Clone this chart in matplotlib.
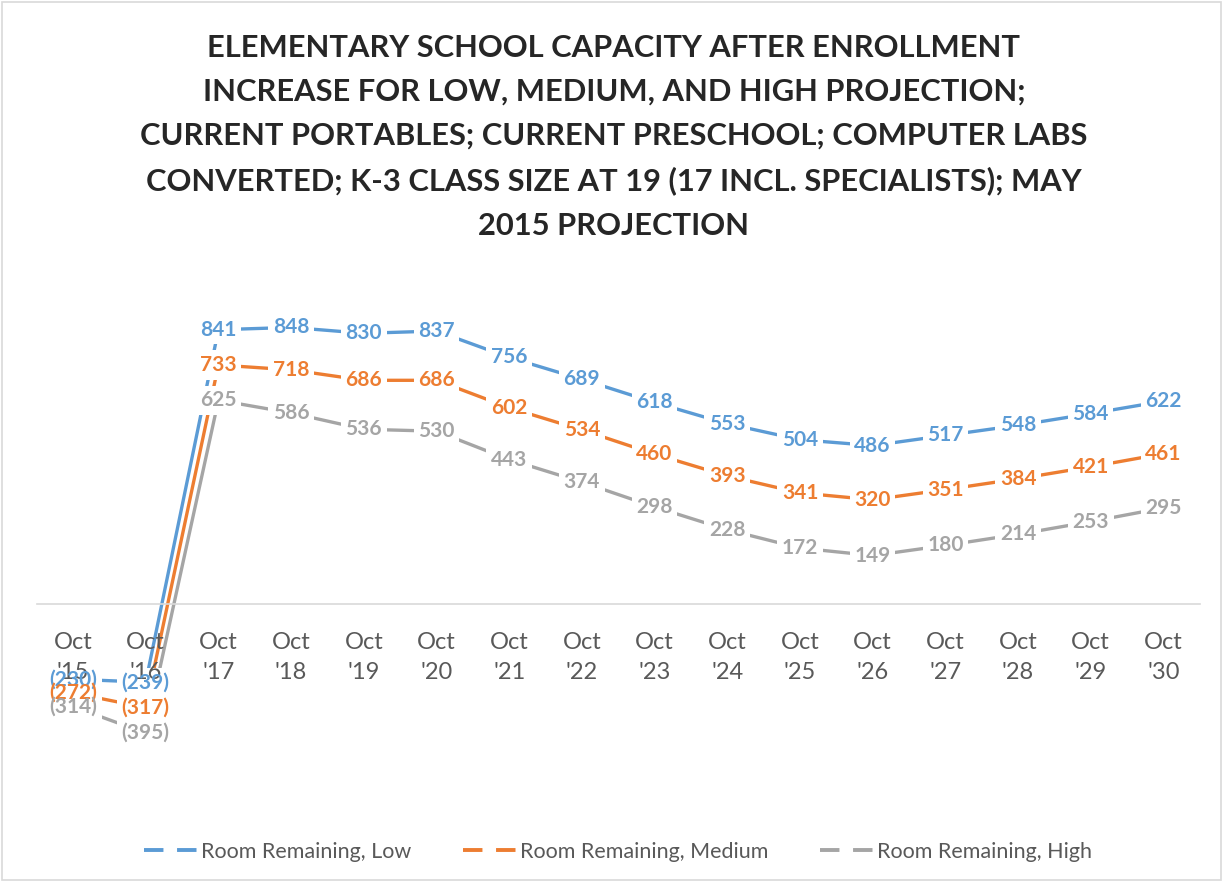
import matplotlib
matplotlib.use("Agg")
import matplotlib.pyplot as plt
from matplotlib.lines import Line2D
from matplotlib.patches import Rectangle

YEARS = ["'15", "'16", "'17", "'18", "'19", "'20", "'21", "'22", "'23",
         "'24", "'25", "'26", "'27", "'28", "'29", "'30"]
LOW = [-230, -239, 841, 848, 830, 837, 756, 689, 618, 553, 504, 486, 517, 548, 584, 622]
MEDIUM = [-272, -317, 733, 718, 686, 686, 602, 534, 460, 393, 341, 320, 351, 384, 421, 461]
HIGH = [-314, -395, 625, 586, 536, 530, 443, 374, 298, 228, 172, 149, 180, 214, 253, 295]

SERIES = [
    ("Room Remaining, Low", LOW, "#5B9BD5"),
    ("Room Remaining, Medium", MEDIUM, "#ED7D31"),
    ("Room Remaining, High", HIGH, "#A5A5A5"),
]

plt.rcParams["font.family"] = ["Lato", "DejaVu Sans"]

fig = plt.figure(figsize=(12.23, 8.82), dpi=100)
fig.patches.append(Rectangle((0.002, 0.002), 0.996, 0.996, transform=fig.transFigure,
                             fill=False, edgecolor="#D9D9D9", lw=1.2))
ax = fig.add_axes([0.030, 0.093, 0.951, 0.592])

x = list(range(len(YEARS)))
for name, vals, color in SERIES:
    ax.plot(x, vals, color=color, lw=2.4, solid_capstyle="round", zorder=2)
    for xi, v in zip(x, vals):
        txt = f"({abs(v)})" if v < 0 else f"{v}"
        # white patch only cuts the lines; the text itself goes on top of all patches
        ax.text(xi, v, txt, ha="center", va="center", color="white", fontsize=15,
                fontweight="bold", zorder=2.2,
                bbox=dict(boxstyle="square,pad=0.22", fc="white", ec="none"))
        ax.text(xi, v, txt, ha="center", va="center", color=color, fontsize=15,
                fontweight="bold", zorder=2.6)

ax.set_xlim(-0.5, len(YEARS) - 0.5)
ax.set_ylim(-600, 1000)
for s in ["top", "right", "left"]:
    ax.spines[s].set_visible(False)
ax.spines["bottom"].set_position(("data", 0))
ax.spines["bottom"].set_color("#D9D9D9")
ax.spines["bottom"].set_linewidth(1.2)
ax.set_yticks([])
ax.set_xticks(x)
ax.set_xticklabels([f"Oct\n{y}" for y in YEARS], fontsize=17, color="#595959",
                   linespacing=1.55)
ax.tick_params(axis="x", length=0, pad=20)
ax.xaxis.set_zorder(2.4)

fig.text(0.502, 0.962,
         "ELEMENTARY SCHOOL CAPACITY AFTER ENROLLMENT\n"
         "INCREASE FOR LOW, MEDIUM, AND HIGH PROJECTION;\n"
         "CURRENT PORTABLES; CURRENT PRESCHOOL; COMPUTER LABS\n"
         "CONVERTED; K-3 CLASS SIZE AT 19 (17 INCL. SPECIALISTS); MAY\n"
         "2015 PROJECTION",
         ha="center", va="top", fontsize=22.2, fontweight="bold", color="#262626",
         linespacing=1.7)

handles = [Line2D([], [], color=c, lw=2.8, dashes=(5, 3.5)) for _, _, c in SERIES]
fig.legend(handles, [s[0] for s in SERIES], loc="center", bbox_to_anchor=(0.505, 0.034),
           ncol=3, frameon=False, fontsize=15.5, labelcolor="#595959",
           handlelength=2.5, handletextpad=0.15, columnspacing=2.4)

fig.savefig("out.png", dpi=100)
